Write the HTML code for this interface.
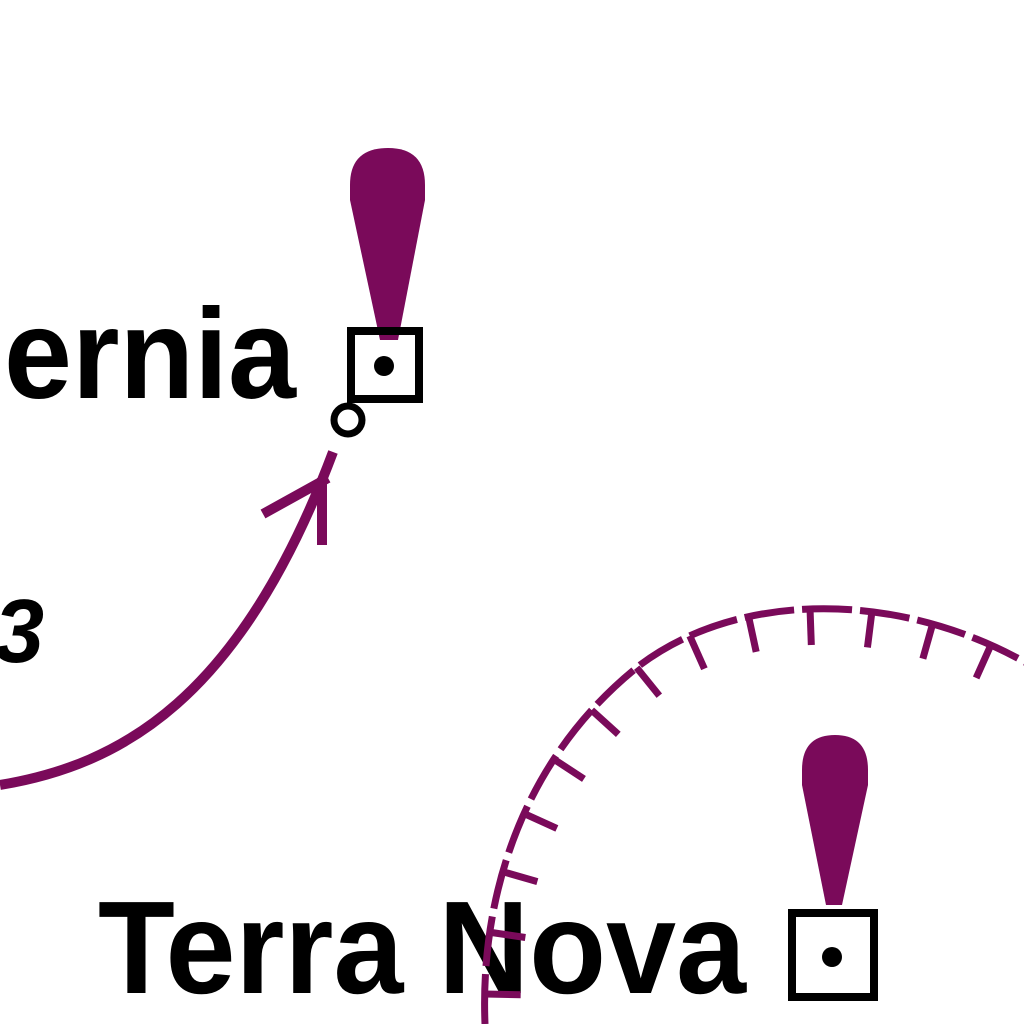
<!DOCTYPE html>
<html><head><meta charset="utf-8"><style>
html,body{margin:0;padding:0;background:#fff;width:1024px;height:1024px;overflow:hidden}
svg{display:block}
text{font-family:"Liberation Sans",sans-serif;fill:#000}
</style></head><body>
<svg id="map" width="1024" height="1024" viewBox="0 0 1024 1024">
  <text x="4" y="398" font-size="128" font-weight="bold" textLength="292" lengthAdjust="spacingAndGlyphs">ernia</text>
  <text x="-6" y="662" font-size="90" font-style="italic" font-weight="bold">3</text>
  <text x="98" y="993" font-size="132" font-weight="bold" textLength="648" lengthAdjust="spacingAndGlyphs">Terra Nova</text>

  <path d="M350,185 Q350,148 388,148 Q425,148 425,185 L425,200 L398,340 L380,340 L350,200 Z" fill="#7a0a5a"/>
  <rect x="351" y="331" width="68" height="68" fill="none" stroke="#000" stroke-width="8"/>
  <circle cx="384" cy="366" r="10" fill="#000"/>

  <path d="M802,770 Q802,735 835,735 Q868,735 868,770 L868,785 L842,905 L826,905 L802,785 Z" fill="#7a0a5a"/>
  <rect x="792" y="913" width="82" height="84" fill="none" stroke="#000" stroke-width="8"/>
  <circle cx="832" cy="957" r="10" fill="#000"/>

  <circle cx="348" cy="420" r="14" fill="#fff" stroke="#000" stroke-width="7"/>

  <path d="M0,785 C120,765 240,700 333,452" fill="none" stroke="#7a0a5a" stroke-width="10"/>
  <path d="M263,514 L328,478 M322,545 L322,478" fill="none" stroke="#7a0a5a" stroke-width="10"/>

  <path id="boundary" d="M485,1024 C480,900 520,760 640,665 C740,590 900,590 1030,665" fill="none" stroke="#7a0a5a" stroke-width="7" stroke-dasharray="50,8"/>
  <g id="ticks"></g>
</svg>
<script>
const p=document.getElementById('boundary');
const g=document.getElementById('ticks');
const L=p.getTotalLength();
for(let s=30;s<L;s+=62){
  const a=p.getPointAtLength(s),b=p.getPointAtLength(Math.min(L,s+1));
  let dx=b.x-a.x,dy=b.y-a.y;const m=Math.hypot(dx,dy)||1;dx/=m;dy/=m;
  const nx=-dy,ny=dx;
  const l=document.createElementNS('http://www.w3.org/2000/svg','line');
  
  
  l.setAttribute('x1',a.x);l.setAttribute('y1',a.y);
  l.setAttribute('x2',a.x+nx*36);l.setAttribute('y2',a.y+ny*36);
  l.setAttribute('stroke','#7a0a5a');l.setAttribute('stroke-width','7');
  g.appendChild(l);
}
</script>
</body></html>
